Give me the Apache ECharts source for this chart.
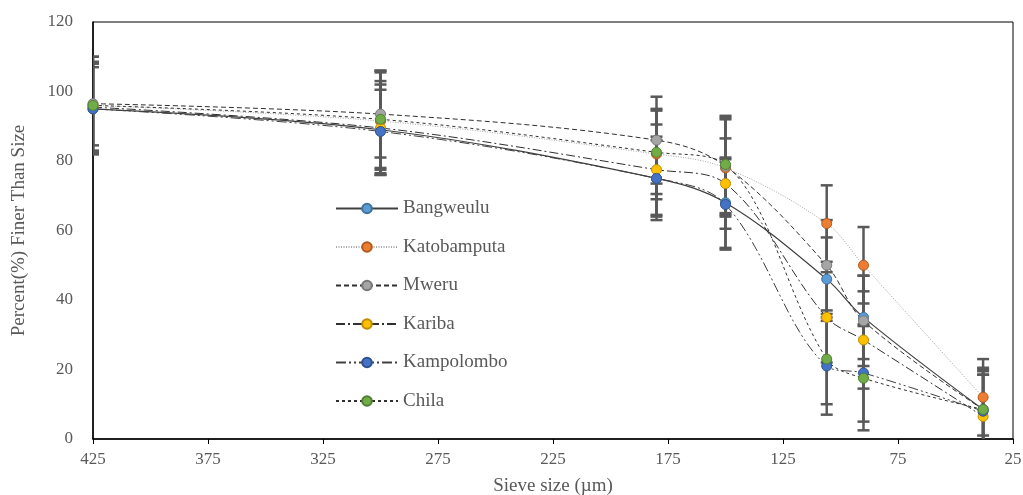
<!DOCTYPE html>
<html>
<head>
<meta charset="utf-8">
<script src="https://cdn.jsdelivr.net/npm/echarts@6/dist/echarts.min.js"></script>
<style>
  html, body { margin: 0; padding: 0; background: #fff; }
  #chart { width: 1023px; height: 495px; }
</style>
</head>
<body>
<div id="chart"></div>
<script>
  // sieve sizes (µm)
  const sieveSizes = [425, 300, 180, 150, 106, 90, 38];

  const seriesNames = ['Bangweulu', 'Katobamputa', 'Mweru', 'Kariba', 'Kampolombo', 'Chila'];

  // percent finer than size
  const bangweulu = [95, 89, 75, 68, 46, 35, 8.5];
  const katobamputa = [96, 91.5, 82, 78, 62, 50, 12];
  const mweru = [96.5, 93.5, 86, 78.5, 50, 34, 8.5];
  const kariba = [95.5, 89.5, 77.5, 73.5, 35, 28.5, 6.5];
  const kampolombo = [95, 88.5, 75, 67.5, 21, 19, 8];
  const chila = [96, 92, 82.5, 79, 23, 17.5, 8.5];

  // error bar half widths
  const errBangweulu = [13, 13, 12, 13, 12, 12, 10];
  const errKatobamputa = [14, 14, 13, 14, 11, 11, 11];
  const errMweru = [12, 12.5, 12.5, 14, 13, 13, 11];
  const errKariba = [13, 13.5, 13, 13, 13, 14, 12];
  const errKampolombo = [12, 12, 11, 13, 14, 14, 12];
  const errChila = [14, 14, 12, 14, 13, 15, 12];

  const yTicks = [0, 20, 40, 60, 80, 100, 120];

  const values = [bangweulu, katobamputa, mweru, kariba, kampolombo, chila];
  const errors = [errBangweulu, errKatobamputa, errMweru, errKariba, errKampolombo, errChila];

  const markerColors = ['#5B9BD5', '#ED7D31', '#A5A5A5', '#FFC000', '#4472C4', '#70AD47'];
  const markerBorders = ['#41719C', '#AE5A21', '#787878', '#BC8C00', '#2F528F', '#507E32'];
  const lineStyles = [
    { color: '#404040', width: 1.2, type: 'solid' },
    { color: '#a6a6a6', width: 1, type: [1, 1.5] },
    { color: '#303030', width: 1, type: [5, 3] },
    { color: '#303030', width: 1, type: [9, 3, 2, 3] },
    { color: '#404040', width: 1, type: [10, 3, 2, 3, 2, 3] },
    { color: '#303030', width: 1, type: [3, 3] }
  ];

  const font = 'Liberation Serif';
  const textColor = '#595959';

  function renderErr(params, api) {
    const x = api.value(0);
    const lo = api.coord([x, api.value(1)]);
    const hi = api.coord([x, api.value(2)]);
    const w = 6;
    const st = { stroke: '#595959', lineWidth: 2.5 };
    return {
      type: 'group',
      children: [
        { type: 'line', shape: { x1: lo[0], y1: lo[1], x2: hi[0], y2: hi[1] }, style: st },
        { type: 'line', shape: { x1: hi[0] - w, y1: hi[1], x2: hi[0] + w, y2: hi[1] }, style: st },
        { type: 'line', shape: { x1: lo[0] - w, y1: lo[1], x2: lo[0] + w, y2: lo[1] }, style: st }
      ]
    };
  }

  const series = [];
  // error bars underneath
  values.forEach((vals, i) => {
    series.push({
      type: 'custom',
      renderItem: renderErr,
      clip: true,
      z: 1,
      silent: true,
      data: sieveSizes.map((s, k) => [s, vals[k] - errors[i][k], vals[k] + errors[i][k]])
    });
  });
  values.forEach((vals, i) => {
    series.push({
      name: seriesNames[i],
      type: 'line',
      smooth: 0.35,
      z: 2,
      symbol: 'circle',
      symbolSize: 10,
      lineStyle: lineStyles[i],
      itemStyle: { color: markerColors[i], borderColor: markerBorders[i], borderWidth: 1 },
      data: sieveSizes.map((s, k) => [s, vals[k]])
    });
  });

  const chart = echarts.init(document.getElementById('chart'));
  chart.setOption({
    backgroundColor: '#fff',
    animation: false,
    grid: {
      left: 93, right: 10, top: 22, bottom: 56,
      outerBoundsMode: 'none',
      containLabel: false,
      show: true, borderColor: '#000', borderWidth: 1
    },
    legend: {
      data: seriesNames,
      orient: 'vertical',
      left: 330,
      top: 194,
      itemWidth: 62,
      itemHeight: 12,
      itemGap: 19.5,
      textStyle: { fontFamily: font, fontSize: 19, color: textColor }
    },
    xAxis: {
      type: 'value',
      inverse: true,
      min: 25,
      max: 425,
      interval: 50,
      name: 'Sieve size (\u00b5m)',
      nameLocation: 'middle',
      nameGap: 38,
      nameTextStyle: { fontFamily: font, fontSize: 19, color: textColor },
      axisLine: { lineStyle: { color: '#000', width: 1.5 } },
      axisTick: { show: true, inside: false, length: 5, lineStyle: { color: '#000' } },
      axisLabel: { fontFamily: font, fontSize: 17, color: textColor, margin: 12 },
      splitLine: { show: false }
    },
    yAxis: {
      type: 'value',
      min: yTicks[0],
      max: yTicks[yTicks.length - 1],
      interval: 20,
      name: 'Percent(%) Finer Than Size',
      nameLocation: 'middle',
      nameRotate: 90,
      nameGap: 64,
      nameTextStyle: { fontFamily: font, fontSize: 19, color: textColor },
      axisLine: { show: true, lineStyle: { color: '#000', width: 1.5 } },
      axisTick: { show: false },
      axisLabel: { fontFamily: font, fontSize: 17, color: textColor, margin: 20 },
      splitLine: { show: false }
    },
    series: series
  });
</script>
</body>
</html>
